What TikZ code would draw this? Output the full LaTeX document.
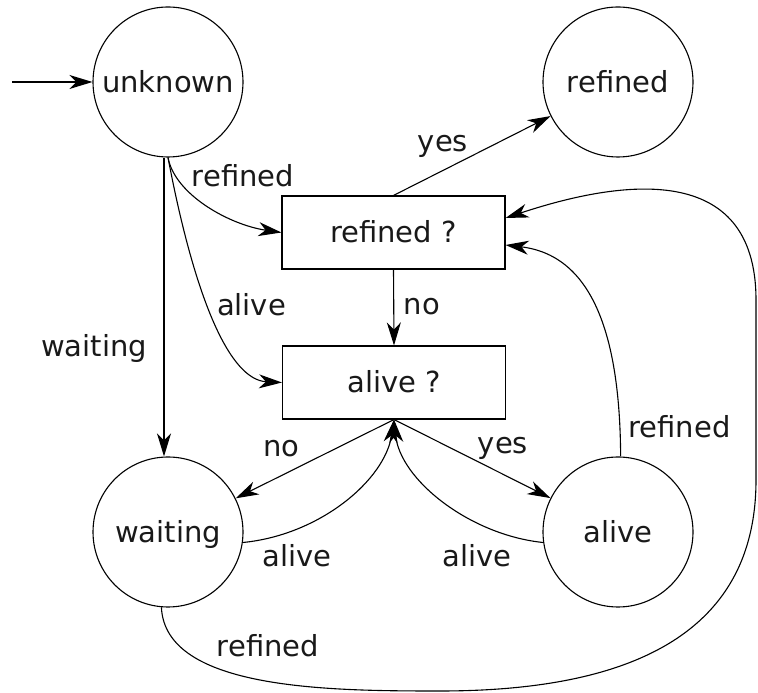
\documentclass[tikz,border=0pt]{standalone}
\usepackage{fontspec}
\setmainfont{DejaVu Sans}
\usetikzlibrary{arrows.meta}
\begin{document}
\begin{tikzpicture}[x=1pt,y=1pt,
  every node/.style={font=\fontsize{29}{34}\selectfont, text=black!90},
  state/.style={draw, circle, minimum size=150pt, inner sep=0pt, line width=1.1pt, text height=21pt, text depth=0pt},
  test/.style={draw, rectangle, minimum width=223pt, minimum height=73pt, inner sep=0pt, line width=1.1pt, text height=21pt, text depth=0pt},
  lbl/.style={anchor=base, inner sep=0pt},
  edge/.style={draw, line width=1.1pt, -{Stealth[length=23pt,width=14pt,inset=7pt]}}]
\useasboundingbox (0,0) rectangle (758,693);
% states
\node[state] (unk) at (168,611) {unknown};
\node[state] (ref) at (618,611) {refined};
\node[state] (wait) at (168,161) {waiting};
\node[state] (alv) at (618,161) {alive};
\node[test] (rq) at (393.5,460.5) {refined ?};
\node[test] (aq) at (394,310.5) {alive ?};
\coordinate (init) at (12,611);
% edges
\path[edge] (init) -- (unk.west);
\path[edge] (unk.south) .. controls (175,498) and (230,468) .. (rq.west);
\path[edge] (unk.south) .. controls (195,393) and (230,313) .. (aq.west);
\path[edge] ([xshift=-4pt]unk.south) -- ([xshift=-4pt]wait.north);
\path[edge] (rq.north) -- (ref);
\path[edge] (rq.south) -- (aq.north);
\path[edge] (aq.south) -- (wait);
\path[edge] (aq.south) -- (alv);
\path[edge] (wait.-8) .. controls (320,158) and (385,213) .. (aq.south);
\path[edge] (alv.188) .. controls (470,158) and (400,213) .. (aq.south);
\path[edge] (alv.88) .. controls (620,363) and (590,438) .. ([yshift=-12.5pt]rq.east);
\path[edge] (wait.265) .. controls (165,3) and (330,2) .. (440,2)
   .. controls (620,2) and (756,53) .. (756,213) -- (756,393)
   .. controls (756,533) and (620,513) .. ([yshift=14.5pt]rq.east);
% labels
\node[lbl] (l1) at (243,506) {refined};
\node[lbl] (l2) at (251.5,377) {alive};
\node[lbl] (l3) at (94,336) {waiting};
\node[lbl] (l4) at (443,541) {yes};
\node[lbl] (l5) at (422,378) {no};
\node[lbl] (l6) at (281.5,236) {no};
\node[lbl] (l7) at (503,239) {yes};
\node[lbl] (l8) at (297,126) {alive};
\node[lbl] (l9) at (477,126) {alive};
\node[lbl] (l10) at (679.5,255) {refined};
\node[lbl] (l11) at (268,36) {refined};
\end{tikzpicture}
\end{document}
